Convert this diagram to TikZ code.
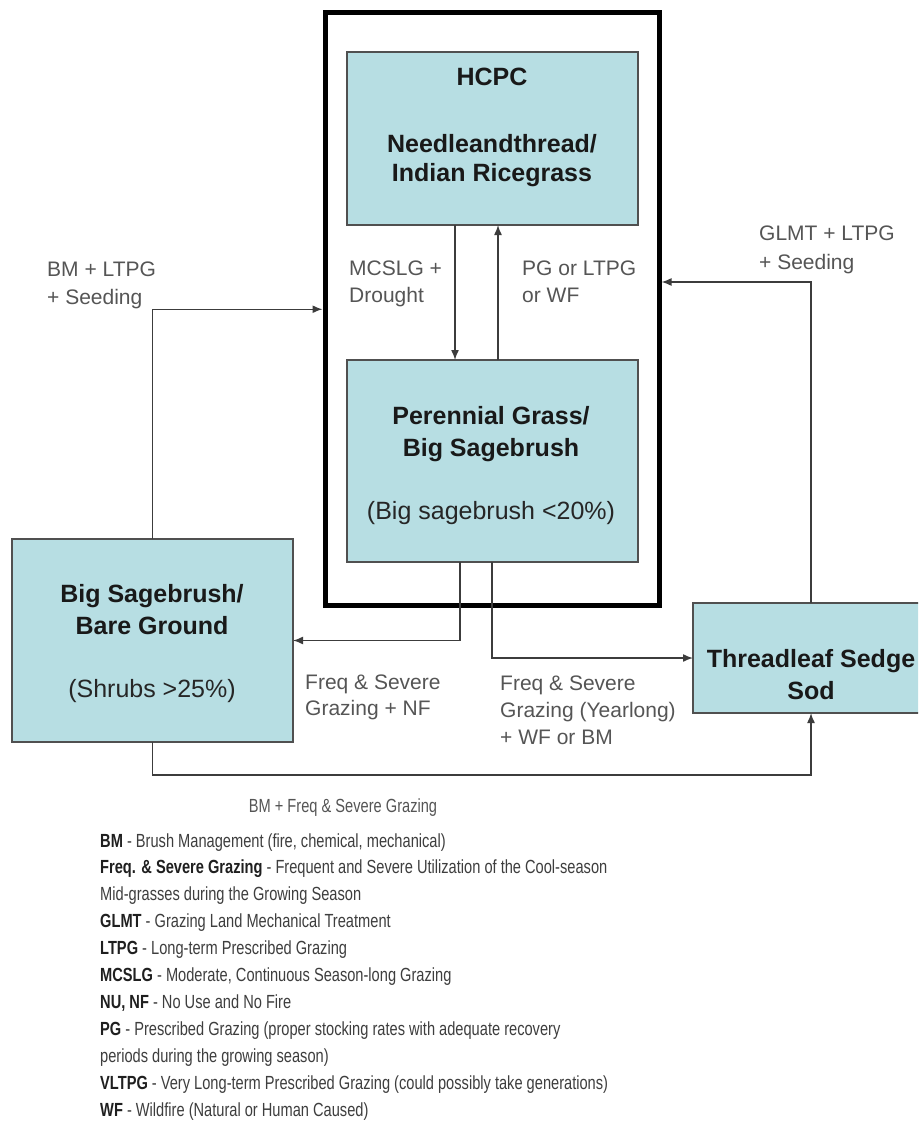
\documentclass[tikz,border=0pt]{standalone}
\usepackage{fontspec}
\setmainfont{Liberation Sans}
\newfontfamily\narrowsans[FakeStretch=0.77]{Liberation Sans}
\usetikzlibrary{arrows.meta}

\definecolor{statefill}{RGB}{183,222,227}
\definecolor{borderline}{RGB}{80,80,80}
\definecolor{edgeline}{RGB}{60,60,60}
\definecolor{labelgrey}{RGB}{85,85,85}
\definecolor{legendgrey}{RGB}{62,62,62}

\newcommand\legterm[1]{\textcolor{black!88}{\textbf{#1}}}

\begin{document}
\begin{tikzpicture}[x=1pt,y=-1pt,
  statebox/.style={draw=borderline, line width=1.5pt, fill=statefill,
    inner sep=0pt, outer sep=0pt},
  framebox/.style={draw=black, line width=5pt, inner sep=0pt, outer sep=2.5pt},
  boxtext/.style={anchor=base, inner sep=0pt, text=black!90,
    font=\fontsize{25}{30}\selectfont\bfseries},
  boxnote/.style={anchor=base, inner sep=0pt, text=black!85,
    font=\fontsize{25}{30}\selectfont},
  edgelabel/.style={anchor=base west, inner sep=0pt, text=labelgrey,
    font=\fontsize{21}{27}\selectfont},
  legendline/.style={anchor=base west, inner sep=0pt, text=legendgrey,
    font=\narrowsans\fontsize{19}{24}\selectfont},
  arr/.style={draw=edgeline, line width=1.5pt,
    -{Latex[length=10pt,width=8pt]}},
]
\useasboundingbox (0,0) rectangle (918,1121);
\fill[white] (0,0) rectangle (918,1121);
\clip (0,0) rectangle (918,1121);

% reference community frame
\node[framebox, minimum width=334, minimum height=592.5] (frame) at (492,309.25) {};

% states
\node[statebox, minimum width=291, minimum height=173] (hcpc) at (492.5,138.5) {};
\node[statebox, minimum width=291, minimum height=202] (pgb) at (492.5,461) {};
\node[statebox, minimum width=281, minimum height=203] (sbg) at (152.5,640.5) {};
\node[statebox, minimum width=229, minimum height=110] (tss) at (807.5,658) {};

% state texts
\node[boxtext] (hcpc1) at (492,86) {HCPC};
\node[boxtext] (hcpc2) at (492,152) {Needleandthread/};
\node[boxtext] (hcpc3) at (492,181) {Indian Ricegrass};

\node[boxtext] (pgb1) at (491,424) {Perennial Grass/};
\node[boxtext] (pgb2) at (491,456) {Big Sagebrush};
\node[boxnote] (pgb3) at (491,519) {(Big sagebrush <20\%)};

\node[boxtext] (sbg1) at (152,602) {Big Sagebrush/};
\node[boxtext] (sbg2) at (152,634) {Bare Ground};
\node[boxnote] (sbg3) at (152,697) {(Shrubs >25\%)};

\node[boxtext] (tss1) at (811,667) {Threadleaf Sedge};
\node[boxtext] (tss2) at (811,699) {Sod};

% transitions
\draw[arr] ([xshift=-37.5]hcpc.south) -- ([xshift=-37.5]pgb.north);
\draw[arr] ([xshift=5.5]pgb.north) -- ([xshift=5.5]hcpc.south);
\draw[arr] (sbg.north) |- (frame.west);
\draw[arr] ([xshift=3.5]tss.north) |- ([yshift=27.25]frame.east);
\draw[arr] ([xshift=-32.5]pgb.south) |- (sbg.east);
\draw[arr] ([xshift=-0.5]pgb.south) |- (tss.west);
\draw[arr] (sbg.south) -- ++(0,33) -| ([xshift=3.5]tss.south);

% transition labels
\node[edgelabel] (t1a) at (349,275.5) {MCSLG +};
\node[edgelabel] (t1b) at (349,302.5) {Drought};
\node[edgelabel] (t2a) at (522,275.5) {PG or LTPG};
\node[edgelabel] (t2b) at (522,302.5) {or WF};
\node[edgelabel] (t3a) at (47,276) {BM + LTPG};
\node[edgelabel] (t3b) at (47,304) {+ Seeding};
\node[edgelabel] (t4a) at (759,240.5) {GLMT + LTPG};
\node[edgelabel] (t4b) at (759,269.5) {+ Seeding};
\node[edgelabel] (t5a) at (305,689.5) {Freq \& Severe};
\node[edgelabel] (t5b) at (305,715.5) {Grazing + NF};
\node[edgelabel] (t6a) at (500,690.5) {Freq \& Severe};
\node[edgelabel] (t6b) at (500,717.5) {Grazing (Yearlong)};
\node[edgelabel] (t6c) at (500,744.5) {+ WF or BM};
\node[anchor=base, inner sep=0pt, text=labelgrey,
  font=\narrowsans\fontsize{19}{24}\selectfont] (t7) at (343,812)
  {BM + Freq \& Severe Grazing};

% legend
\node[legendline] (lg1) at (100,847) {\legterm{BM} - Brush Management (fire, chemical, mechanical)};
\node[legendline] (lg2) at (100,873.9) {\legterm{Freq. \& Severe Grazing} - Frequent and Severe Utilization of the Cool-season};
\node[legendline] (lg3) at (100,900.8) {Mid-grasses during the Growing Season};
\node[legendline] (lg4) at (100,927.7) {\legterm{GLMT} - Grazing Land Mechanical Treatment};
\node[legendline] (lg5) at (100,954.6) {\legterm{LTPG} - Long-term Prescribed Grazing};
\node[legendline] (lg6) at (100,981.5) {\legterm{MCSLG} - Moderate, Continuous Season-long Grazing};
\node[legendline] (lg7) at (100,1008.4) {\legterm{NU, NF} - No Use and No Fire};
\node[legendline] (lg8) at (100,1035.3) {\legterm{PG} - Prescribed Grazing (proper stocking rates with adequate recovery};
\node[legendline] (lg9) at (100,1062.2) {periods during the growing season)};
\node[legendline] (lg10) at (100,1089.1) {\legterm{VLTPG} - Very Long-term Prescribed Grazing (could possibly take generations)};
\node[legendline] (lg11) at (100,1116) {\legterm{WF} - Wildfire (Natural or Human Caused)};
\end{tikzpicture}
\end{document}
